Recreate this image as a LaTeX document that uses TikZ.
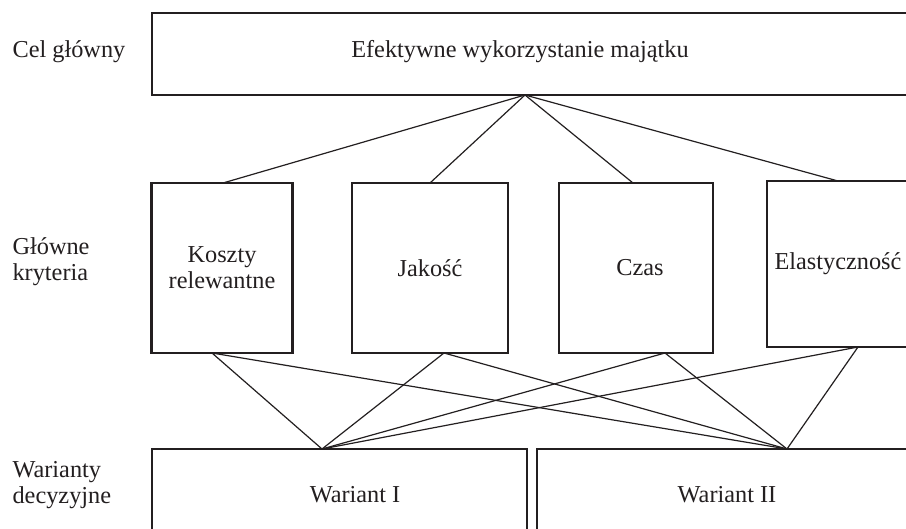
\documentclass[tikz,border=0pt]{standalone}
\usepackage{fontspec}
\setmainfont{Liberation Serif}
\usepackage{tikz}
\usetikzlibrary{positioning}
\definecolor{ink}{HTML}{231F20}

\begin{document}
\begin{tikzpicture}[x=1pt,y=-1pt,line width=1.2pt,color=ink,font=\fontsize{24.3}{25.8}\selectfont]
      \tikzstyle{boxthin}=[draw=ink,line width=1.4pt,inner sep=0pt]
      \tikzstyle{boxthick}=[draw=ink,line width=2.1pt,inner sep=0pt,align=center]
      \tikzstyle{levellabel}=[anchor=west,align=left,inner sep=0pt]
      \useasboundingbox[fill=white] (0,0) rectangle (906,529);
      % levels on the left
      \node[levellabel] (lgoal) at (12,52) {Cel główny};
      \node[levellabel] (lcrit) at (12,262) {Główne\\kryteria};
      \node[levellabel] (lvar) at (12,485) {Warianty\\decyzyjne};
      % main goal
      \node[boxthin,minimum width=770pt,minimum height=82pt] (goal) at (537,54) {};
      \node (goaltext) at (520,52) {Efektywne wykorzystanie majątku};
      % criteria
      \node[boxthick,minimum width=141pt,minimum height=170pt] (costs) at (222,268) {Koszty\\relewantne};
      \node[boxthin,minimum width=156pt,minimum height=170pt] (quality) at (430,268) {Jakość};
      \node[boxthick,minimum width=154pt,minimum height=170pt] (time) at (636,268) {\hspace*{8pt}Czas};
      \node[boxthick,minimum width=142pt,minimum height=166pt] (flex) at (838,264) {Elastyczność};
      % variants
      \node[boxthin,minimum width=375pt,minimum height=100pt] (var1) at (339.5,499) {};
      \node[boxthin,minimum width=380pt,minimum height=100pt] (var2) at (727,499) {};
      \node (var1text) at (355,495) {Wariant I};
      \node (var2text) at (727,495) {Wariant II};
      % connection points
      \coordinate (gtop) at (525,95);
      \coordinate (c1) at (223,183);
      \coordinate (c2) at (430,183);
      \coordinate (c3) at (633,183);
      \coordinate (c4) at (838,181);
      \coordinate (b1) at (212,353);
      \coordinate (b2) at (444,353);
      \coordinate (b3) at (665,353);
      \coordinate (b4) at (858,347);
      \coordinate (v1) at (322,449);
      \coordinate (v2) at (787,449);
      \foreach \c in {c1,c2,c3,c4}
        \draw (gtop) -- (\c);
      \foreach \b in {b1,b2,b3,b4}
        \draw (\b) -- (v1) (\b) -- (v2);
    \end{tikzpicture}
\end{document}
